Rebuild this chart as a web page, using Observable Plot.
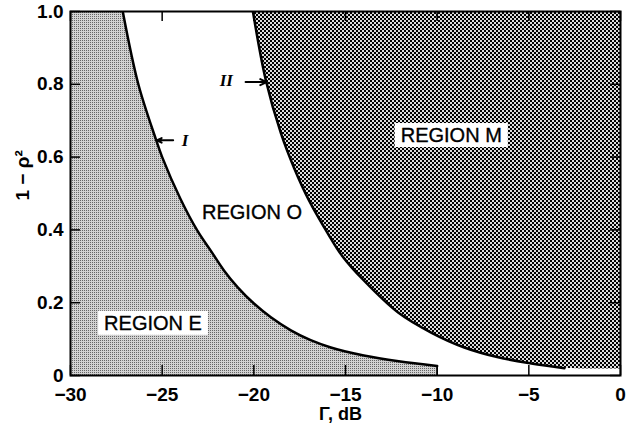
<!DOCTYPE html>
<html>
<head>
<meta charset="utf-8">
<script src="https://cdn.jsdelivr.net/npm/d3@7"></script>
<script src="https://cdn.jsdelivr.net/npm/@observablehq/plot@0.6"></script>
<style>
  html, body { margin: 0; padding: 0; background: white; }
</style>
</head>
<body>
<script>
// ---- data ----
const xTicks = [-30, -25, -20, -15, -10, -5, 0];
const yTicks = [0, 0.2, 0.4, 0.6, 0.8, 1.0];
const xDomain = [-30, 0];
const yDomain = [0, 1];

// boundary curve I (between region E and region O)
const curveIx = [-27.15, -26.3, -25.35, -25.0, -24.0, -23.08, -22.35, -21.62, -20.89, -19.98, -19.07, -17.98, -16.9, -15.8, -14.0, -12.1, -10.0];
const curveIy = [1.0, 0.8, 0.65, 0.6, 0.485, 0.398, 0.343, 0.288, 0.243, 0.197, 0.160, 0.124, 0.097, 0.077, 0.055, 0.039, 0.026];

// boundary curve II (between region O and region M)
const curveIIx = [-20.05, -19.34, -18.52, -17.81, -16.99, -15.96, -15.2, -14.0, -12.13, -10.33, -8.52, -6.67, -4.86, -3.06];
const curveIIy = [1.0, 0.81, 0.665, 0.571, 0.481, 0.39, 0.33, 0.261, 0.173, 0.118, 0.077, 0.05, 0.033, 0.02];
const regionMFloor = 0.018; // lower edge of region M at x = 0

// region labels
const regionNames = ["REGION E", "REGION O", "REGION M"];
const regionX = [-25.5, -20.1, -9.23];
const regionY = [0.143, 0.448, 0.659];
const regionBoxed = [true, false, true];

// curve pointers
const pointerNames = ["I", "II"];
const pointerTextX = [-23.75, -21.5];
const pointerTextY = [0.646, 0.81];
const pointerFromX = [-24.4, -20.45];
const pointerToX = [-25.3, -19.3];
const pointerYv = [0.646, 0.806];

// ---- tables built from the arrays ----
const curveI = curveIx.map((x, i) => ({x, y: curveIy[i]}));
const curveII = curveIIx.map((x, i) => ({x, y: curveIIy[i]}));
const areaEflat = [{x: xDomain[0], y: yDomain[1]}, {x: curveIx[0], y: yDomain[1]}];
const areaM = [...curveII, {x: xDomain[1], y: regionMFloor}];
const regions = regionNames.map((name, i) => ({name, x: regionX[i], y: regionY[i], boxed: regionBoxed[i]}));
const pointers = pointerNames.map((name, i) => ({name, tx: pointerTextX[i], ty: pointerTextY[i], x1: pointerFromX[i], x2: pointerToX[i], y: pointerYv[i]}));

const W = 630, H = 430, mL = 70, mR = 10, mT = 11, mB = 55;
const innerW = W - mL - mR, innerH = H - mT - mB;
const tickLen = 10;

const defs = () => {
  const d = d3.create("svg:defs");
  const pm = d.append("pattern").attr("id", "hatchM").attr("width", 4).attr("height", 4).attr("patternUnits", "userSpaceOnUse");
  pm.append("rect").attr("width", 4).attr("height", 4).attr("fill", "#000");
  pm.append("rect").attr("x", 0).attr("y", 0).attr("width", 2).attr("height", 2).attr("fill", "#dcdcdc");
  pm.append("rect").attr("x", 2).attr("y", 2).attr("width", 2).attr("height", 2).attr("fill", "#dcdcdc");
  const pe = d.append("pattern").attr("id", "stipE").attr("width", 2).attr("height", 2).attr("patternUnits", "userSpaceOnUse");
  pe.append("rect").attr("width", 2).attr("height", 2).attr("fill", "#d2d2d2");
  pe.append("rect").attr("width", 1).attr("height", 1).attr("fill", "#666");
  return d.node();
};

const crv = "catmull-rom";

const chart = Plot.plot({
  width: W, height: H,
  marginLeft: mL, marginRight: mR, marginTop: mT, marginBottom: mB,
  x: {domain: xDomain},
  y: {domain: yDomain},
  style: {fontFamily: "'Liberation Sans', Arial, sans-serif", background: "white", color: "black"},
  marks: [
    defs,
    Plot.areaY(areaEflat, {x: "x", y1: 0, y2: "y", fill: "url(#stipE)"}),
    Plot.areaY(curveI, {x: "x", y1: 0, y2: "y", fill: "url(#stipE)", curve: crv, clip: true}),
    Plot.areaY(areaM, {x: "x", y1: "y", y2: yDomain[1], fill: "url(#hatchM)", curve: crv, clip: true}),
    Plot.line(curveI, {x: "x", y: "y", stroke: "black", strokeWidth: 2.5, curve: crv, clip: true}),
    Plot.line(curveII, {x: "x", y: "y", stroke: "black", strokeWidth: 2.5, curve: crv, clip: true}),
    Plot.ruleX([curveIx[curveIx.length - 1]], {y1: 0, y2: curveIy[curveIy.length - 1], stroke: "black", strokeWidth: 1.5}),
    // inward ticks on all four sides
    Plot.tickX(xTicks, {x: d => d, insetTop: innerH - tickLen, stroke: "black", strokeWidth: 1.5}),
    Plot.tickX(xTicks, {x: d => d, insetBottom: innerH - tickLen, stroke: "black", strokeWidth: 1.5}),
    Plot.tickY(yTicks, {y: d => d, insetRight: innerW - tickLen, stroke: "black", strokeWidth: 1.5}),
    Plot.tickY(yTicks, {y: d => d, insetLeft: innerW - tickLen, stroke: "black", strokeWidth: 1.5}),
    Plot.axisX(xTicks, {anchor: "bottom", tickSize: 0, tickPadding: 12, fontSize: 19, fontWeight: "bold", label: null,
      tickFormat: d => d < 0 ? "−" + Math.abs(d) : String(d)}),
    Plot.axisY(yTicks, {anchor: "left", tickSize: 0, tickPadding: 7, fontSize: 19, fontWeight: "bold", label: null,
      tickFormat: d => d === 0 ? "0" : d.toFixed(1)}),
    // axis titles
    Plot.text(["Γ, dB"], {frameAnchor: "bottom", dy: 39, dx: -5, text: d => d, fontSize: 18, fontWeight: "bold", lineAnchor: "middle"}),
    Plot.text(["1 − ρ²"], {frameAnchor: "left", dx: -48, dy: 7, rotate: -90, text: d => d, fontSize: 19, fontWeight: "bold", lineAnchor: "middle"}),
    // region labels
    Plot.text(regions, {x: "x", y: "y", text: "name", fontSize: 20, className: "region-lbl", fill: "black", stroke: "black", strokeWidth: 0.35}),
    // curve pointers
    Plot.arrow(pointers, {x1: "x1", y1: "y", x2: "x2", y2: "y", stroke: "black", strokeWidth: 2, headLength: 7, headAngle: 50}),
    Plot.text(pointers, {x: "tx", y: "ty", text: "name", fontSize: 17, fontFamily: "'Liberation Serif', 'DejaVu Serif', serif", fontStyle: "italic", fontWeight: "bold"}),
    Plot.frame({stroke: "black", strokeWidth: 2})
  ]
});

document.body.append(chart);

// white boxes behind the boxed region labels
const lblGroup = chart.querySelector("g.region-lbl");
if (lblGroup) {
  lblGroup.querySelectorAll("text").forEach((t, i) => {
    if (!regions[i] || !regions[i].boxed) return;
    const b = t.getBBox();
    const r = document.createElementNS("http://www.w3.org/2000/svg", "rect");
    const padX = 6, padY = 3;
    r.setAttribute("x", b.x - padX);
    r.setAttribute("y", b.y - padY + 2);
    r.setAttribute("width", b.width + 2 * padX);
    r.setAttribute("height", b.height + 2 * padY - 4);
    r.setAttribute("fill", "white");
    r.setAttribute("stroke", "none");
    if (t.getAttribute("transform")) r.setAttribute("transform", t.getAttribute("transform"));
    t.parentNode.insertBefore(r, t);
  });
}
</script>
</body>
</html>
